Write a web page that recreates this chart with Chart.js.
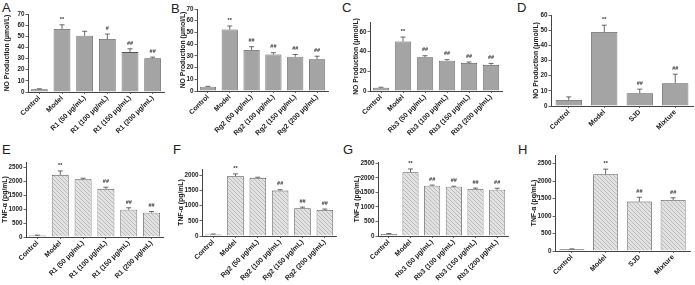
<!DOCTYPE html>
<html>
<head>
<meta charset="utf-8">
<script src="https://cdn.jsdelivr.net/npm/chart.js@4.4.0/dist/chart.umd.min.js"></script>
<style>
  body { margin: 0; background: #fff; width: 695px; height: 285px; overflow: hidden; position: relative; font-family: 'Liberation Sans', Arial, sans-serif; }
  canvas { position: absolute; }
  .lbl { position: absolute; font-size: 13px; color: #222; line-height: 1; }
</style>
</head>
<body>
<div class="lbl" style="left:2px;top:1px">A</div>
<div class="lbl" style="left:171px;top:2px">B</div>
<div class="lbl" style="left:342px;top:1px">C</div>
<div class="lbl" style="left:517px;top:1px">D</div>
<div class="lbl" style="left:2px;top:143px">E</div>
<div class="lbl" style="left:173px;top:143px">F</div>
<div class="lbl" style="left:343px;top:143px">G</div>
<div class="lbl" style="left:518px;top:143px">H</div>

<script>
  /* categorias */
  const catsR1 = ['Control', 'Model', 'R1 (50 μg/mL)', 'R1 (100 μg/mL)', 'R1 (150 μg/mL)', 'R1 (200 μg/mL)'];
  const catsRg2 = ['Control', 'Model', 'Rg2 (50 μg/mL)', 'Rg2 (100 μg/mL)', 'Rg2 (150 μg/mL)', 'Rg2 (200 μg/mL)'];
  const catsRb3 = ['Control', 'Model', 'Rb3 (50 μg/mL)', 'Rb3 (100 μg/mL)', 'Rb3 (150 μg/mL)', 'Rb3 (200 μg/mL)'];
  const catsSJD = ['Control', 'Model', 'SJD', 'Mixture'];

  /* NO production (umol/L) */
  const noR1 = [2.5, 56.5, 50.5, 47.5, 35.8, 30.3];
  const noR1Err = [0.4, 3.8, 4, 4.5, 3, 1];
  const noRg2 = [3.6, 52.5, 35, 31.2, 29.2, 27.2];
  const noRg2Err = [0.4, 3, 2.8, 1.5, 2, 2.5];
  const noRb3 = [3.4, 50.2, 34.3, 30.8, 28.4, 26.5];
  const noRb3Err = [0.4, 4.5, 1.5, 1, 1, 1.5];
  const noSJD = [4, 48.8, 8.4, 15];
  const noSJDErr = [2, 4.5, 2.7, 6];

  /* TNF-a (pg/mL) */
  const tnfR1 = [50, 2220, 2060, 1720, 975, 870];
  const tnfR1Err = [15, 140, 40, 60, 70, 40];
  const tnfRg2 = [50, 1970, 1910, 1490, 910, 855];
  const tnfRg2Err = [15, 70, 20, 30, 40, 30];
  const tnfRb3 = [70, 2200, 1735, 1695, 1620, 1595];
  const tnfRb3Err = [15, 110, 20, 20, 30, 50];
  const tnfSJD = [50, 2200, 1415, 1460];
  const tnfSJDErr = [10, 145, 125, 65];

  /* marcas de significancia */
  const sigA = ['', '**', '', '#', '##', '##'];
  const sigBC = ['', '**', '##', '##', '##', '##'];
  const sigD = ['', '**', '##', '##'];
  const sigEF = ['', '**', '', '##', '##', '##'];

  /* ticks */
  const ticksNO70 = [0, 10, 20, 30, 40, 50, 60, 70];
  const ticksNO60 = [0, 10, 20, 30, 40, 50, 60];
  const ticksTNF2500 = [0, 500, 1000, 1500, 2000, 2500];
  const ticksTNF2000 = [0, 500, 1000, 1500, 2000];

  const FONT = "'Liberation Sans', Arial, sans-serif";
  const titleNO = 'NO Production (μmol/L)';
  const titleTNF = 'TNF-α (pg/mL)';

  function hatchPattern() {
    const c = document.createElement('canvas');
    c.width = 4; c.height = 4;
    const g = c.getContext('2d');
    g.fillStyle = '#e2e2e2';
    g.fillRect(0, 0, 4, 4);
    g.strokeStyle = '#aaaaaa';
    g.lineWidth = 0.7;
    g.beginPath();
    g.moveTo(0, 0); g.lineTo(4, 4);
    g.moveTo(-1, 3); g.lineTo(1, 5);
    g.moveTo(3, -1); g.lineTo(5, 1);
    g.stroke();
    return g.createPattern(c, 'repeat');
  }

  /* barras de error + significancia */
  const errorBars = {
    id: 'errorBars',
    afterDatasetsDraw(chart, args, opts) {
      const ctx = chart.ctx;
      const y = chart.scales.y;
      const meta = chart.getDatasetMeta(0);
      const data = chart.data.datasets[0].data;
      ctx.save();
      ctx.strokeStyle = '#444';
      ctx.lineWidth = 0.8;
      meta.data.forEach((bar, i) => {
        const yTop = y.getPixelForValue(data[i] + opts.errs[i]);
        ctx.beginPath();
        ctx.moveTo(bar.x, bar.y);
        ctx.lineTo(bar.x, yTop);
        ctx.moveTo(bar.x - 2.5, yTop);
        ctx.lineTo(bar.x + 2.5, yTop);
        ctx.stroke();
        if (opts.sigs[i]) {
          ctx.fillStyle = '#333';
          ctx.font = 'bold 5.5px ' + FONT;
          ctx.textAlign = 'center';
          ctx.textBaseline = 'bottom';
          ctx.fillText(opts.sigs[i], bar.x, yTop - 3);
        }
      });
      ctx.restore();
    }
  };

  const panels = [
    { cats: catsR1, vals: noR1, errs: noR1Err, sigs: sigA, ticks: ticksNO70, max: 70, title: titleNO, hatch: false,
      canvasLeft: 4, plotLeft: 28, plotRight: 164, plotTop: 14, plotBottom: 92 },
    { cats: catsRg2, vals: noRg2, errs: noRg2Err, sigs: sigBC, ticks: ticksNO70, max: 70, title: titleNO, hatch: false,
      canvasLeft: 180, plotLeft: 197, plotRight: 328, plotTop: 9, plotBottom: 91 },
    { cats: catsRb3, vals: noRb3, errs: noRb3Err, sigs: sigBC, ticks: ticksNO70, max: 70, title: titleNO, hatch: false,
      canvasLeft: 353, plotLeft: 370, plotRight: 502, plotTop: 22, plotBottom: 91 },
    { cats: catsSJD, vals: noSJD, errs: noSJDErr, sigs: sigD, ticks: ticksNO60, max: 60, title: titleNO, hatch: false,
      canvasLeft: 533, plotLeft: 551, plotRight: 693, plotTop: 15, plotBottom: 106 },
    { cats: catsR1, vals: tnfR1, errs: tnfR1Err, sigs: sigEF, ticks: ticksTNF2500, max: 2680, title: titleTNF, hatch: true,
      canvasLeft: 2, plotLeft: 26, plotRight: 163, plotTop: 162, plotBottom: 237 },
    { cats: catsRg2, vals: tnfRg2, errs: tnfRg2Err, sigs: sigEF, ticks: ticksTNF2000, max: 2200, title: titleTNF, hatch: true,
      canvasLeft: 178, plotLeft: 202, plotRight: 336, plotTop: 169, plotBottom: 236 },
    { cats: catsRb3, vals: tnfRb3, errs: tnfRb3Err, sigs: sigBC, ticks: ticksTNF2500, max: 2550, title: titleTNF, hatch: true,
      canvasLeft: 354, plotLeft: 378, plotRight: 508, plotTop: 162, plotBottom: 236 },
    { cats: catsSJD, vals: tnfSJD, errs: tnfSJDErr, sigs: sigD, ticks: ticksTNF2500, max: 2750, title: titleTNF, hatch: true,
      canvasLeft: 531, plotLeft: 555, plotRight: 690, plotTop: 155, plotBottom: 251 },
  ];

  const padTop = 6;
  const xH = 52;

  panels.forEach(function (p) {
    const cv = document.createElement('canvas');
    const top = p.plotTop - padTop;
    cv.width = p.plotRight - p.canvasLeft + 2;
    cv.height = p.plotBottom - top + xH;
    cv.style.left = p.canvasLeft + 'px';
    cv.style.top = top + 'px';
    document.body.appendChild(cv);

    new Chart(cv, {
      type: 'bar',
      plugins: [errorBars],
      data: {
        labels: p.cats,
        datasets: [
          {
            data: p.vals,
            backgroundColor: p.hatch ? hatchPattern() : '#a4a4a4',
            borderColor: '#555',
            borderWidth: 0.8,
            barPercentage: 0.74,
            categoryPercentage: 1,
          },
        ],
      },
      options: {
        responsive: false,
        animation: false,
        layout: { padding: { top: padTop, right: 2, left: 0, bottom: 0 } },
        plugins: {
          legend: { display: false },
          tooltip: { enabled: false },
          errorBars: { errs: p.errs, sigs: p.sigs },
        },
        scales: {
          x: {
            afterFit: (s) => { s.height = xH; },
            grid: { display: true, drawOnChartArea: false, offset: false, tickLength: 2, color: '#444', lineWidth: 0.8 },
            border: { display: true, color: '#444', width: 1 },
            ticks: {
              minRotation: 45, maxRotation: 45, padding: 0, color: '#222',
              font: { family: FONT, size: 7, weight: 'bold' },
            },
          },
          y: {
            min: 0,
            max: p.max,
            afterFit: (s) => { s.width = p.plotLeft - p.canvasLeft; },
            afterBuildTicks: (s) => { s.ticks = p.ticks.map((v) => ({ value: v })); },
            grid: { display: true, drawOnChartArea: false, tickLength: 2.5, color: '#444', lineWidth: 0.8 },
            border: { display: true, color: '#444', width: 1 },
            ticks: {
              padding: 1, color: '#222',
              font: { family: FONT, size: 6.3, weight: 'bold' },
              callback: (value) => value,
            },
            title: {
              display: true, text: p.title, padding: 0, color: '#222',
              font: { family: FONT, size: 6.8, weight: 'bold', lineHeight: 1 },
            },
          },
        },
      },
    });
  });
</script>
</body>
</html>
